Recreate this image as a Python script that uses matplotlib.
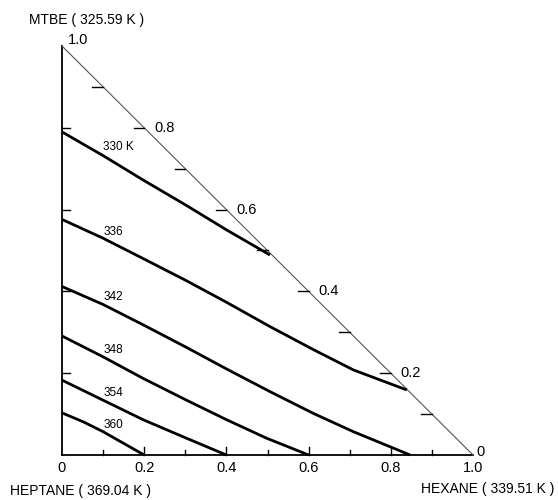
import numpy as np
import matplotlib.pyplot as plt

plt.rcParams['font.family'] = ['Liberation Sans', 'DejaVu Sans']

# isotherms: hexane mole fraction (x) vs MTBE mole fraction (y)
temps = ['330 K', '336', '342', '348', '354', '360']
iso_x = [
    [0.0, 0.100, 0.198, 0.303, 0.401, 0.506],
    [0.0, 0.100, 0.198, 0.303, 0.401, 0.506, 0.611, 0.709, 0.839],
    [0.0, 0.100, 0.198, 0.303, 0.401, 0.506, 0.611, 0.709, 0.847],
    [0.0, 0.100, 0.198, 0.303, 0.401, 0.498, 0.600],
    [0.0, 0.100, 0.198, 0.303, 0.400],
    [0.0, 0.052, 0.100, 0.149, 0.200],
]
iso_y = [
    [0.790, 0.732, 0.672, 0.610, 0.550, 0.489],
    [0.576, 0.530, 0.480, 0.426, 0.373, 0.314, 0.258, 0.208, 0.159],
    [0.412, 0.368, 0.318, 0.263, 0.210, 0.155, 0.102, 0.057, 0.0],
    [0.291, 0.240, 0.187, 0.134, 0.086, 0.041, 0.0],
    [0.183, 0.134, 0.086, 0.041, 0.0],
    [0.103, 0.081, 0.057, 0.029, 0.0],
]
label_pos = [(0.10, 0.754), (0.10, 0.546), (0.10, 0.387),
             (0.10, 0.257), (0.10, 0.152), (0.10, 0.073)]

ticks = np.arange(1, 10) / 10
major = [0.2, 0.4, 0.6, 0.8]

fig = plt.figure(figsize=(5.58, 5.0), dpi=100)
ax = fig.add_axes([0, 0, 1, 1])
ax.set_xlim(-62 / 411, 496 / 411)
ax.set_ylim(-45 / 409, 455 / 409)
ax.axis('off')

# triangle frame
ax.plot([0, 1], [0, 0], color='black', lw=1.3)
ax.plot([0, 0], [0, 1], color='black', lw=1.3)
ax.plot([0, 1], [1, 0], color='#555555', lw=0.8)

# bottom ticks, longer at the labelled ones
for t in ticks:
    h = 0.012 if np.isclose(t % 0.2, 0.1) else 0.02
    ax.plot([t, t], [0, h], color='black', lw=1.0)
# left ticks
for t in major:
    ax.plot([0, 0.02], [t, t], color='black', lw=1.0)
# hypotenuse ticks (horizontal, pointing left)
for t in ticks:
    ax.plot([1 - t - 0.026, 1 - t], [t, t], color='black', lw=1.0)

fs = 10.5
for t, lab in zip([0, 0.2, 0.4, 0.6, 0.8, 1.0], ['0', '0.2', '0.4', '0.6', '0.8', '1.0']):
    ax.text(t, -0.032, lab, ha='center', va='center', fontsize=fs)
for t in major:
    ax.text(1 - t + 0.024, t, f'{t:.1f}', ha='left', va='center', fontsize=fs)
ax.text(0.015, 1.015, '1.0', ha='left', va='center', fontsize=fs)
ax.text(1.009, 0.008, '0', ha='left', va='center', fontsize=fs)

ax.text(-0.080, 1.064, 'MTBE ( 325.59 K )', ha='left', va='center', fontsize=10)
ax.text(-0.127, -0.087, 'HEPTANE ( 369.04 K )', ha='left', va='center', fontsize=10)
ax.text(1.199, -0.083, 'HEXANE ( 339.51 K )', ha='right', va='center', fontsize=10)

for xs, ys, name, (lx, ly) in zip(iso_x, iso_y, temps, label_pos):
    ax.plot(xs, ys, color='black', lw=2.0, solid_capstyle='butt', solid_joinstyle='round')
    ax.text(lx, ly, name, ha='left', va='center', fontsize=8.5)

fig.savefig('out.png', dpi=100)
